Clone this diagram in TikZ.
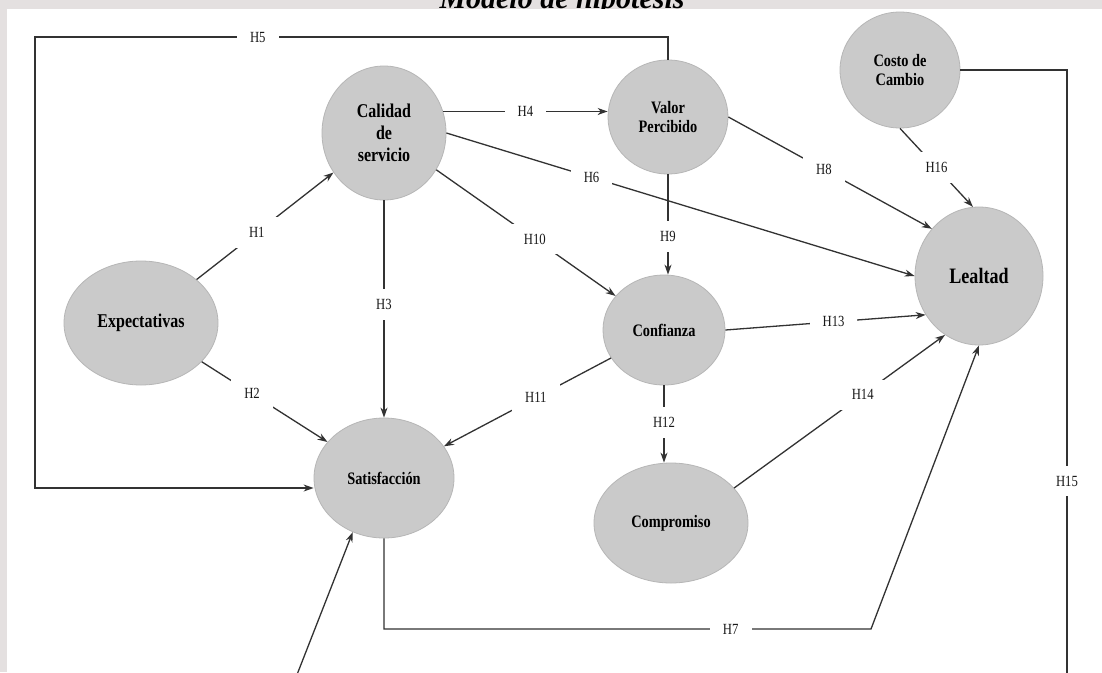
\documentclass[tikz,border=0pt]{standalone}
\usepackage{fontspec}
\setmainfont{Liberation Serif}
\newfontfamily\condserif[FakeStretch=0.82]{Liberation Serif}
\usetikzlibrary{arrows.meta,shapes.geometric}
\definecolor{bgc}{RGB}{228,224,224}
\definecolor{nodefill}{RGB}{202,202,202}
\definecolor{nodeedge}{RGB}{182,182,182}
\definecolor{linec}{RGB}{50,50,50}
\newcommand{\nodefont}{\condserif\bfseries\fontsize{17.5}{19}\selectfont}
\newcommand{\bignodefont}{\condserif\bfseries\fontsize{19.5}{22}\selectfont}
\newcommand{\lealfont}{\condserif\bfseries\fontsize{22}{24}\selectfont}
\begin{document}
\begin{tikzpicture}[x=1pt,y=-1pt,
  var/.style={ellipse, fill=nodefill, draw=nodeedge, line width=0.8pt, inner sep=0pt, align=center, font=\nodefont},
  conn/.style={draw=linec, line width=1.3pt, -{Stealth[length=10pt,width=7pt]}},
  plainline/.style={draw=linec, line width=1.3pt},
  hlbl/.style={fill=white, inner xsep=13pt, inner ysep=10pt, font=\condserif\fontsize{15.5}{15.5}\selectfont, text=black!90}
]
\useasboundingbox (0,0) rectangle (1102,672);
\clip (0,0) rectangle (1102,672);
\fill[bgc] (0,0) rectangle (1102,672);
\node[anchor=base, font=\bfseries\itshape\fontsize{30}{30}\selectfont] (title) at (562,8) {Modelo de hipótesis};
\fill[white] (7,9) rectangle (1102,672);

% variables
\node[var, font=\bignodefont, minimum width=154pt, minimum height=124pt] (exp) at (141,323) {Expectativas};
\node[var, font=\bignodefont, minimum width=124pt, minimum height=134pt] (cal) at (384,133) {Calidad\\de\\servicio};
\node[var, minimum width=120pt, minimum height=114pt] (val) at (668,117) {Valor\\Percibido};
\node[var, minimum width=120pt, minimum height=116pt] (cos) at (900,70) {Costo de\\Cambio};
\node[var, font=\lealfont, minimum width=128pt, minimum height=138pt] (lea) at (979,276) {Lealtad};
\node[var, minimum width=122pt, minimum height=110pt] (con) at (664,330) {Confianza};
\node[var, minimum width=140pt, minimum height=120pt] (sat) at (384,478) {Satisfacción};
\node[var, minimum width=154pt, minimum height=120pt] (com) at (671,523) {Compromiso};

% helper coordinates
\coordinate (h5a) at (35,37);
\coordinate (h5b) at (35,488);
\coordinate (h7c) at (871,629);
\coordinate (h15a) at (1067,70);
\coordinate (h15b) at (1067,690);
\coordinate (ext) at (291,690);

% connectors
\draw[conn] (exp) -- node[hlbl, pos=0.44] {H1} (cal);
\draw[conn] (exp) -- node[hlbl, pos=0.40] {H2} (sat);
\draw[conn] (cal) -- node[hlbl, pos=0.48] {H3} (sat);
\draw[conn] (cal.20) -- node[hlbl] {H4} (cal.20 -| val.west);
\draw[conn] (val.north) |- node[hlbl, pos=0.824] {H5} (h5a) -- (h5b) -- (h5b -| sat.west);
\draw[conn] (cal.east) -- node[hlbl, pos=0.31] {H6} (lea.west);
\draw[conn] (sat.south) |- node[hlbl, pos=0.856] {H7} (h7c) -- (lea.south);
\draw[conn] (val.east) -- node[hlbl, pos=0.47] {H8} (lea.135);
\draw[conn] (val.south) -- node[hlbl, pos=0.62] {H9} (val.south |- con.north);
\draw[conn] (cal) -- node[hlbl, pos=0.55] {H10} (con);
\draw[conn] (con) -- node[hlbl, pos=0.45] {H11} (sat);
\draw[conn] (con.south) -- node[hlbl, pos=0.48] {H12} (con.south |- com.north);
\draw[conn] (con.east) -- node[hlbl, pos=0.54] {H13} (lea.216);
\draw[conn] (com.29) -- node[hlbl, pos=0.61] {H14} (lea.240);
\draw[plainline] (cos.east) -- (h15a) -- node[hlbl, pos=0.663] {H15} (h15b);
\draw[conn] (cos.south) -- node[hlbl, pos=0.5] {H16} (lea.95);
\draw[conn] (ext) -- (sat.240);
\end{tikzpicture}
\end{document}
